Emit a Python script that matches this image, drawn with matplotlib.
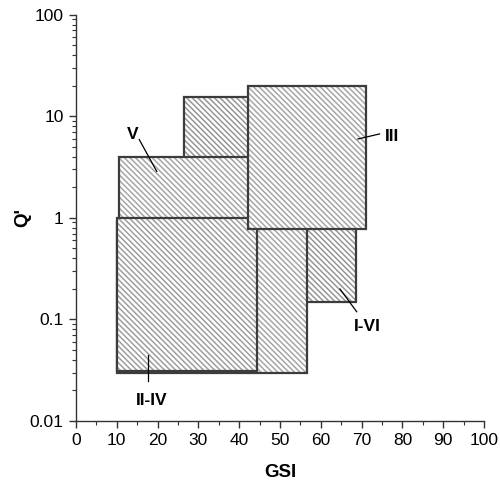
import matplotlib
matplotlib.use("Agg")
import matplotlib.pyplot as plt
from matplotlib.patches import Rectangle
from matplotlib.ticker import FixedLocator, FixedFormatter, MultipleLocator, LogLocator, NullFormatter

plt.rcParams['font.family'] = ['Liberation Sans', 'DejaVu Sans']
plt.rcParams['hatch.linewidth'] = 1.1

# Rectangles drawn in back-to-front order: (name, gsi_min, gsi_max, q_min, q_max)
names = ["A", "V", "I-VI", "mid", "II-IV", "III"]
gsi_min = [26.5, 10.5, 50.0, 10.0, 10.1, 42.1]
gsi_max = [50.0, 45.0, 68.6, 56.7, 44.3, 71.1]
q_min = [2.0, 0.5, 0.15, 0.0295, 0.031, 0.77]
q_max = [15.3, 4.0, 2.0, 0.9, 1.0, 20.0]
hatch_colors = ["#969696", "#a6a6a6", "#969696", "#a6a6a6", "#9e9e9e", "#a6a6a6"]

# Labels: text, text position, leader line start, leader line end
label_text = ["V", "III", "I-VI", "II-IV"]
label_x = [14.0, 77.5, 71.5, 18.6]
label_y = [6.6, 6.3, 0.085, 0.0158]
line_x0 = [15.5, 74.4, 68.8, 17.7]
line_y0 = [5.9, 6.7, 0.119, 0.025]
line_x1 = [19.8, 69.1, 64.7, 17.7]
line_y1 = [2.86, 5.97, 0.199, 0.045]

y_ticks = [0.01, 0.1, 1, 10, 100]
y_tick_labels = ["0.01", "0.1", "1", "10", "100"]
x_ticks = list(range(0, 101, 10))

fig = plt.figure(figsize=(5.0, 4.83), dpi=100)
ax = fig.add_axes([0.152, 0.1284, 0.816, 0.8412])
ax.set_yscale('log')
ax.set_xlim(0, 100)
ax.set_ylim(0.01, 100)

for i in range(len(names)):
    w = gsi_max[i] - gsi_min[i]
    h = q_max[i] - q_min[i]
    z = 2 + i
    ax.add_patch(Rectangle((gsi_min[i], q_min[i]), w, h, facecolor='white',
                           edgecolor=hatch_colors[i], hatch='\\' * 6, linewidth=0, zorder=z))
    ax.add_patch(Rectangle((gsi_min[i], q_min[i]), w, h, fill=False,
                           edgecolor='#3c3c3c', linewidth=1.6, zorder=z + 0.5))

for i in range(len(label_text)):
    ax.plot([line_x0[i], line_x1[i]], [line_y0[i], line_y1[i]], color='black', lw=0.9, zorder=20)
    ax.text(label_x[i], label_y[i], label_text[i], fontsize=12.5, fontweight='bold',
            ha='center', va='center', zorder=21)

for s in ['top', 'right']:
    ax.spines[s].set_visible(False)
for s in ['left', 'bottom']:
    ax.spines[s].set_color('#333333')
    ax.spines[s].set_linewidth(1.0)

ax.xaxis.set_major_locator(FixedLocator(x_ticks))
ax.xaxis.set_minor_locator(MultipleLocator(5))
ax.yaxis.set_major_locator(FixedLocator(y_ticks))
ax.yaxis.set_major_formatter(FixedFormatter(y_tick_labels))
ax.yaxis.set_minor_locator(LogLocator(base=10, subs=range(2, 10)))
ax.yaxis.set_minor_formatter(NullFormatter())
ax.tick_params(which='major', direction='out', length=5, width=1, color='#333333', labelsize=12.5, pad=4)
ax.tick_params(which='minor', direction='out', length=3, width=0.8, color='#333333')

ax.set_xlabel('GSI', fontsize=13.5, fontweight='bold', labelpad=11)
ax.set_ylabel("Q'", fontsize=13.5, fontweight='bold', labelpad=-1)

fig.savefig('out.png', dpi=100)
